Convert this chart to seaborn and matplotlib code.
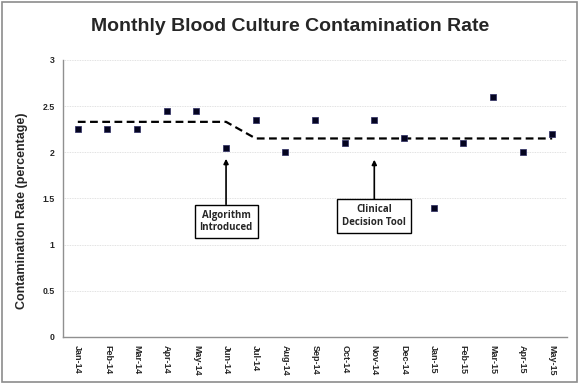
import matplotlib
matplotlib.use("Agg")
import matplotlib.pyplot as plt
import seaborn as sns
import pandas as pd
from matplotlib.patches import Rectangle

# chart data
months = ["Jan-14", "Feb-14", "Mar-14", "Apr-14", "May-14", "Jun-14", "Jul-14",
          "Aug-14", "Sep-14", "Oct-14", "Nov-14", "Dec-14", "Jan-15", "Feb-15",
          "Mar-15", "Apr-15", "May-15"]
rates = [2.25, 2.25, 2.25, 2.45, 2.45, 2.05, 2.35, 2.0, 2.35, 2.1, 2.35, 2.15,
         1.4, 2.1, 2.6, 2.0, 2.2]
mean_line = [2.33, 2.33, 2.33, 2.33, 2.33, 2.33, 2.15, 2.15, 2.15, 2.15, 2.15,
             2.15, 2.15, 2.15, 2.15, 2.15, 2.15]
y_ticks = [0, 0.5, 1, 1.5, 2, 2.5, 3]
y_tick_labels = ["0", "0.5", "1", "1.5", "2", "2.5", "3"]

df = pd.DataFrame({"month": months, "rate": rates, "mean": mean_line})
df["pos"] = range(len(months))

sns.set_style("white")
plt.rcParams['font.family'] = ['Liberation Sans', 'DejaVu Sans']

fig = plt.figure(figsize=(5.8, 3.84), dpi=100)
ax = fig.add_axes([0.1086, 0.1224, 0.869, 0.7214])

# grey frame around the whole chart
fig.patches.append(Rectangle((0.004, 0.006), 0.991, 0.988, transform=fig.transFigure,
                             fill=False, edgecolor="#8c8c8c", linewidth=1.2))

for v in y_ticks[1:]:
    ax.axhline(v, color="#d8d8d8", linewidth=0.6, linestyle=(0, (1, 1)), zorder=0)

sns.lineplot(data=df, x="pos", y="mean", ax=ax, color="black", linewidth=1.6,
             linestyle=(0, (3.5, 2)), zorder=2)
sns.scatterplot(data=df, x="pos", y="rate", ax=ax, marker="s", s=24,
                color="#050520", edgecolor="#2a2a60", linewidth=0.5, zorder=3)

ax.set_xlim(-0.5, len(months) - 0.5)
ax.set_ylim(0, 3)
ax.set_xticks(df["pos"])
ax.set_xticklabels(months, rotation=270, fontsize=6.5, fontweight="bold")
ax.set_yticks(y_ticks)
ax.set_yticklabels(y_tick_labels, fontsize=6.3, fontweight="bold")
ax.tick_params(axis="both", length=0, pad=6)
ax.set_xlabel("")
ax.set_ylabel("Contamination Rate (percentage)", fontsize=9, fontweight="bold")
ax.yaxis.set_label_coords(-0.069, 0.455)

for side in ["top", "right"]:
    ax.spines[side].set_visible(False)
ax.spines["left"].set_color("#909090")
ax.spines["bottom"].set_color("#909090")
ax.spines["left"].set_linewidth(1.0)
ax.spines["bottom"].set_linewidth(1.0)

box_style = dict(boxstyle="square,pad=0.5", facecolor="white", edgecolor="black", linewidth=1.0)
arrow_style = dict(arrowstyle="-|>", color="black", linewidth=1.2, mutation_scale=7, shrinkA=0, shrinkB=0)
ax.annotate("Algorithm\nIntroduced", xy=(5, 1.93), xytext=(5, 1.25), ha="center", va="center",
            fontsize=7, fontweight="bold", family=["Open Sans", "DejaVu Sans"],
            bbox=box_style, arrowprops=arrow_style, zorder=4)
ax.annotate("Clinical\nDecision Tool", xy=(10, 1.92), xytext=(10, 1.31), ha="center", va="center",
            fontsize=7, fontweight="bold", family=["Open Sans", "DejaVu Sans"],
            bbox=box_style, arrowprops=arrow_style, zorder=4)

fig.text(0.5, 0.932, "Monthly Blood Culture Contamination Rate", ha="center", va="center",
         fontsize=14, fontweight="bold")

fig.savefig("out.png", dpi=100)
